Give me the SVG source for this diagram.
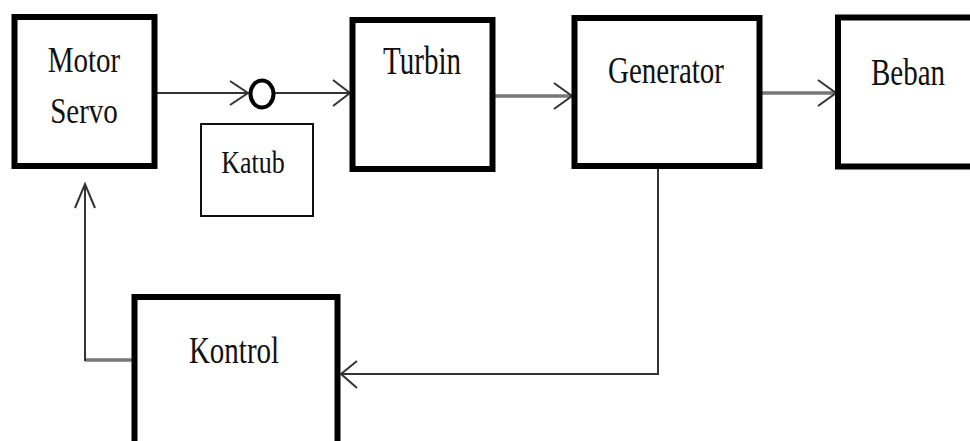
<svg xmlns="http://www.w3.org/2000/svg" width="970" height="441" viewBox="0 0 970 441">
<style>
.box{fill:#fff;stroke:#000;stroke-width:6}
.thin{fill:#fff;stroke:#111;stroke-width:2}
.lbl{font-family:'Liberation Serif','DejaVu Serif',serif;font-size:29px;fill:#111;text-anchor:middle}
.ln{fill:none;stroke:#333;stroke-width:2}
.gl{fill:none;stroke:#777;stroke-width:3.5}
.ah{fill:none;stroke:#333;stroke-width:2;stroke-linejoin:miter}
</style>
<rect width="970" height="441" fill="#fff"/>
<g id="connectors">
<path class="ln" d="M157,93 H248"/>
<path class="ah" d="M230,81 L248,93 L230,105"/>
<path class="ln" d="M274,93 H350"/>
<path class="ah" d="M333,80 L350,93 L333,106"/>
<path class="gl" d="M495,96 H571"/>
<path class="ah" d="M554,83 L572,96 L554,109"/>
<path class="gl" d="M762,93 H834"/>
<path class="ah" d="M818,80 L836,93 L818,106"/>
<path class="ln" d="M658,169 V374 H341"/>
<path class="ah" d="M357,361 L341,374 L357,388"/>
<path class="gl" d="M132,360 H85"/>
<path class="ln" d="M85,361 V184"/>
<path class="ah" d="M75,208 L85,184 L95,208"/>
</g>
<g id="motor-servo">
<rect class="box" x="14.5" y="17" width="140" height="149"/>
<text class="lbl" transform="translate(84,72) scale(1,1.25)">Motor</text>
<text class="lbl" transform="translate(84,123) scale(1,1.25)">Servo</text>
</g>
<g id="katub-valve">
<ellipse cx="262" cy="94" rx="11.5" ry="13.5" fill="#fff" stroke="#000" stroke-width="4"/>
</g>
<g id="katub">
<rect class="thin" x="201" y="124" width="112" height="92"/>
<text class="lbl" style="font-size:26px" transform="translate(253,173) scale(1,1.25)">Katub</text>
</g>
<g id="turbin">
<rect class="box" x="352.5" y="20" width="140" height="149"/>
<text class="lbl" transform="translate(422,74) scale(1,1.35)">Turbin</text>
</g>
<g id="generator">
<rect class="box" x="574.5" y="18" width="185" height="148"/>
<text class="lbl" transform="translate(666,83) scale(1,1.3)">Generator</text>
</g>
<g id="beban">
<rect class="box" x="838" y="17.5" width="150" height="149"/>
<text class="lbl" transform="translate(908,85) scale(1,1.3)">Beban</text>
</g>
<g id="kontrol">
<rect class="box" x="134.5" y="297" width="203" height="170"/>
<text class="lbl" transform="translate(234,363) scale(1,1.3)">Kontrol</text>
</g>
</svg>
